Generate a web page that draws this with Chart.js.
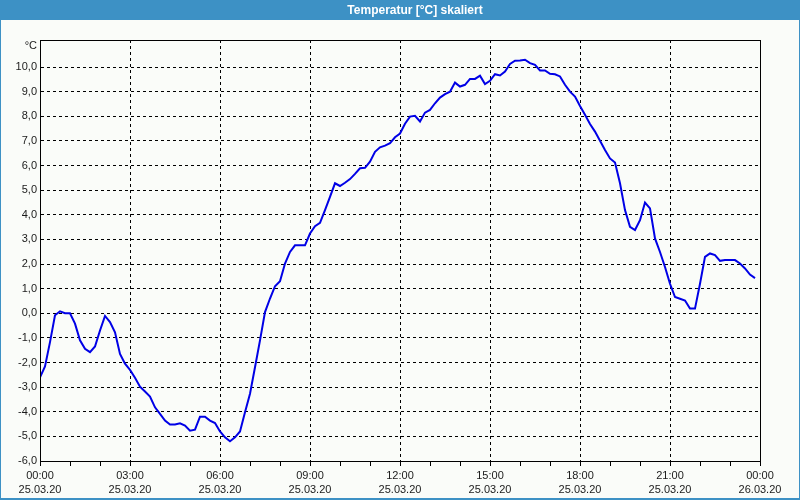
<!DOCTYPE html>
<html>
<head>
<meta charset="utf-8">
<script src="https://cdn.jsdelivr.net/npm/chart.js@4/dist/chart.umd.min.js"></script>
<style>
  html, body { margin: 0; padding: 0; background: #fafcf9; }
  #wrap { width: 800px; height: 500px; position: relative; }
</style>
</head>
<body>
<div id="wrap"><canvas id="c" width="800" height="500"></canvas></div>
<script>
// ---- data ----
const chartTitle = 'Temperatur [°C] skaliert';
const unitLabel = '°C';
const sampleMinutes = 10; // one reading every 10 minutes, starting 25.03.20 00:00
const temperature = [
  -2.6, -2.16, -1.17, -0.08, 0.08, 0.0, 0.0, -0.42, -1.1, -1.44, -1.58, -1.35,
  -0.7, -0.11, -0.36, -0.77, -1.65, -2.05, -2.3, -2.62, -2.98, -3.18, -3.38, -3.82,
  -4.09, -4.36, -4.52, -4.52, -4.47, -4.56, -4.77, -4.73, -4.2, -4.2, -4.36, -4.46,
  -4.8, -5.04, -5.2, -5.04, -4.8, -4.02, -3.27, -2.19, -1.1, 0.05, 0.6, 1.1,
  1.3, 2.02, 2.49, 2.76, 2.76, 2.76, 3.24, 3.54, 3.67, 4.19, 4.73, 5.28,
  5.17, 5.3, 5.45, 5.66, 5.89, 5.91, 6.16, 6.56, 6.74, 6.81, 6.91, 7.15,
  7.3, 7.7, 7.99, 8.02, 7.79, 8.15, 8.26, 8.53, 8.76, 8.9, 9.0, 9.37,
  9.21, 9.28, 9.52, 9.52, 9.65, 9.31, 9.44, 9.71, 9.66, 9.82, 10.13, 10.26,
  10.27, 10.3, 10.16, 10.09, 9.86, 9.86, 9.73, 9.71, 9.62, 9.28, 9.0, 8.8,
  8.42, 8.06, 7.69, 7.38, 7.01, 6.63, 6.29, 6.12, 5.28, 4.19, 3.51, 3.38,
  3.78, 4.5, 4.26, 3.04, 2.49, 1.88, 1.2, 0.66, 0.59, 0.52, 0.19, 0.19,
  1.2, 2.29, 2.43, 2.36, 2.13, 2.16, 2.16, 2.16, 2.02, 1.82, 1.57, 1.43
];
const timeLabels = ['00:00','03:00','06:00','09:00','12:00','15:00','18:00','21:00','00:00'];
const dateLabels = ['25.03.20','25.03.20','25.03.20','25.03.20','25.03.20','25.03.20','25.03.20','25.03.20','26.03.20'];
const yTicks = [-6,-5,-4,-3,-2,-1,0,1,2,3,4,5,6,7,8,9,10];

// ---- build points (x in hours) ----
const points = temperature.map((v, i) => ({ x: i * sampleMinutes / 60, y: v }));

const framePlugin = {
  id: 'frame',
  beforeDraw(chart) {
    const ctx = chart.ctx;
    ctx.save();
    ctx.fillStyle = '#fafcf9';
    ctx.fillRect(0, 0, 800, 500);
    ctx.fillStyle = '#3d91c5';
    ctx.fillRect(0, 0, 800, 20);
    ctx.fillRect(0, 0, 1, 500);
    ctx.fillRect(799, 0, 1, 500);
    ctx.fillRect(0, 498, 800, 2);
    ctx.fillStyle = '#ffffff';
    ctx.font = 'bold 12px "Liberation Sans", Arial, sans-serif';
    ctx.textAlign = 'center';
    ctx.textBaseline = 'middle';
    ctx.fillText(chartTitle, 415, 10.5);
    ctx.restore();
  },
  afterDraw(chart) {
    const ctx = chart.ctx;
    const a = chart.chartArea;
    ctx.save();
    ctx.strokeStyle = '#000';
    ctx.lineWidth = 1;
    ctx.setLineDash([]);
    ctx.strokeRect(Math.round(a.left) + 0.5, Math.round(a.top) + 0.5,
                   Math.round(a.right - a.left), Math.round(a.bottom - a.top));
    ctx.fillStyle = '#1a1a1a';
    ctx.font = '11px "Liberation Sans", Arial, sans-serif';
    ctx.textAlign = 'right';
    ctx.textBaseline = 'middle';
    ctx.fillText(unitLabel, a.left - 3, a.top + 6);
    ctx.restore();
  }
};

new Chart(document.getElementById('c'), {
  type: 'line',
  data: {
    datasets: [{
      data: points,
      borderColor: '#0000e6',
      borderWidth: 2,
      pointRadius: 0,
      tension: 0,
      fill: false
    }]
  },
  options: {
    responsive: false,
    animation: false,
    events: [],
    layout: { padding: { left: 0, right: 40, top: 40, bottom: 0 } },
    plugins: { legend: { display: false }, tooltip: { enabled: false }, title: { display: false } },
    scales: {
      x: {
        type: 'linear',
        min: 0,
        max: 24,
        afterFit(scale) { scale.height = 39; },
        ticks: {
          stepSize: 1,
          autoSkip: false,
          maxRotation: 0,
          padding: 2,
          color: '#1a1a1a',
          font: { family: '"Liberation Sans", Arial, sans-serif', size: 11, lineHeight: 1.36 },
          callback(v) {
            if (v % 3 !== 0) return '';
            const k = v / 3;
            return [timeLabels[k], dateLabels[k]];
          }
        },
        grid: {
          color: (c) => (c.tick && c.tick.value % 3 === 0) ? '#000' : 'rgba(0,0,0,0)',
          tickColor: '#000',
          tickLength: 5,
          tickBorderDash: [],
          lineWidth: 1,
          drawTicks: true
        },
        border: { display: true, color: '#000', dash: [3, 3] }
      },
      y: {
        type: 'linear',
        min: -6,
        max: 11.1,
        afterFit(scale) { scale.width = 40; },
        afterBuildTicks(scale) { scale.ticks = yTicks.map(v => ({ value: v })); },
        ticks: {
          padding: 3,
          color: '#1a1a1a',
          font: { family: '"Liberation Sans", Arial, sans-serif', size: 11 },
          callback(v) { return v.toFixed(1).replace('.', ','); }
        },
        grid: {
          color: '#000',
          lineWidth: 1,
          drawTicks: false
        },
        border: { display: true, color: '#000', dash: [3, 3] }
      }
    }
  },
  plugins: [framePlugin]
});
</script>
</body>
</html>
